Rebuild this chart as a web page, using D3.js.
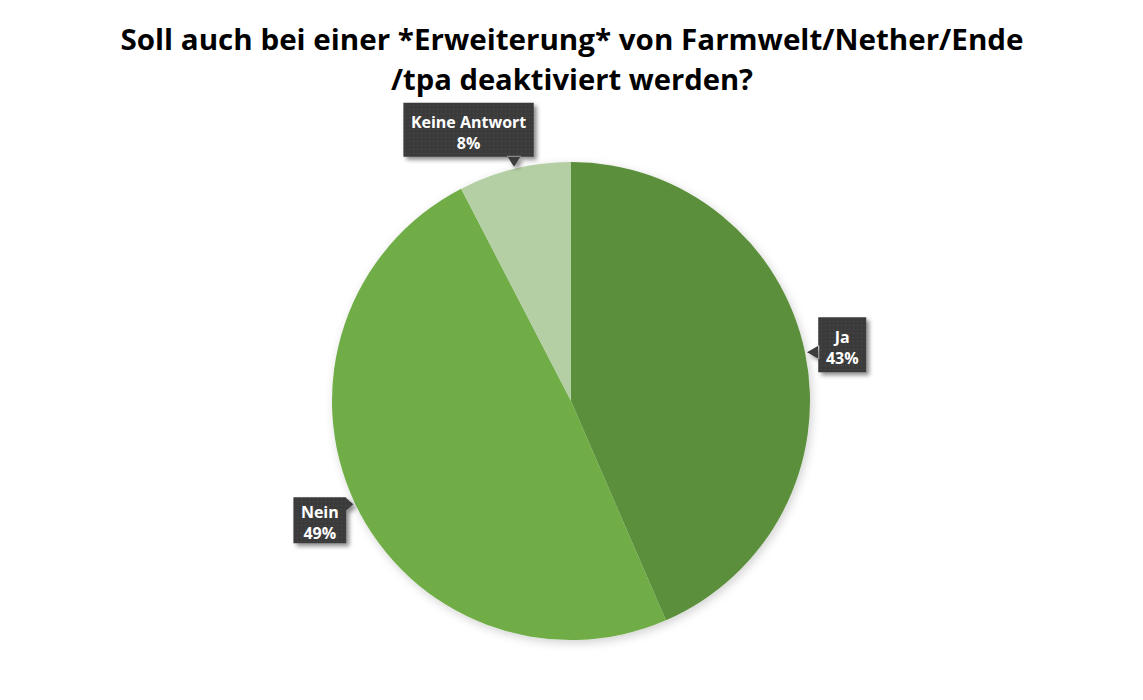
<!DOCTYPE html>
<html><head><meta charset="utf-8">
<script src="https://cdn.jsdelivr.net/npm/d3@7"></script>
<style>html,body{margin:0;padding:0;background:#fff;}svg{display:block;}</style>
</head><body>
<svg id="chart" width="1143" height="700"></svg>
<script>
const titleLines = ["Soll auch bei einer *Erweiterung* von Farmwelt/Nether/Ende", "/tpa deaktiviert werden?"];
const categories = ["Ja", "Nein", "Keine Antwort"];
const values = [43.5, 48.9, 7.6];
const pctLabels = ["43%", "49%", "8%"];
const colors = ["#5b8f3b", "#70ad47", "#b5cfa4"];

const svg = d3.select("#chart");
const cx = 571, cy = 401, R = 239;

const defs = svg.append("defs");
const pat = defs.append("pattern").attr("id","dots").attr("width",4).attr("height",4).attr("patternUnits","userSpaceOnUse");
pat.append("rect").attr("width",4).attr("height",4).attr("fill","#3b3b3b");
pat.append("rect").attr("x",1).attr("y",1).attr("width",1).attr("height",1).attr("fill","#4d4d4d");
const f = defs.append("filter").attr("id","shadow").attr("x","-30%").attr("y","-30%").attr("width","160%").attr("height","160%");
f.append("feDropShadow").attr("dx",3).attr("dy",3).attr("stdDeviation",2.2).attr("flood-color","#000").attr("flood-opacity",0.45);
const f2 = defs.append("filter").attr("id","pieshadow").attr("x","-20%").attr("y","-20%").attr("width","140%").attr("height","140%");
f2.append("feDropShadow").attr("dx",2).attr("dy",3).attr("stdDeviation",5).attr("flood-color","#000").attr("flood-opacity",0.18);

// Title
const tLen = [903, 362];
svg.append("g").selectAll("text").data(titleLines).join("text")
  .attr("x", 572).attr("y", (d,i)=> 50 + i*40)
  .attr("text-anchor","middle")
  .attr("font-family","'Open Sans', 'DejaVu Sans', sans-serif")
  .attr("font-weight","bold").attr("font-size",28).attr("fill","#000")
  .attr("textLength",(d,i)=>tLen[i]).attr("lengthAdjust","spacingAndGlyphs")
  .text(d=>d);

const pie = d3.pie().sort(null).value(d=>d)(values);
const arc = d3.arc().innerRadius(0).outerRadius(R);
const g = svg.append("g").attr("transform",`translate(${cx},${cy})`).attr("filter","url(#pieshadow)");
g.selectAll("path").data(pie).join("path")
  .attr("d",arc).attr("fill",(d,i)=>colors[i]);

// Labels (callouts)
const labelR = [277, 278, 290];
const labelShift = [0, 0, -7]; // angular tweak in degrees
const lg = svg.append("g");
pie.forEach((d,i)=>{
  const mid = (d.startAngle + d.endAngle)/2;
  const a = mid + labelShift[i]*Math.PI/180;
  const bx = cx + labelR[i]*Math.sin(a), by = cy - labelR[i]*Math.cos(a);
  const tipR = R + 2;
  const tx = cx + tipR*Math.sin(mid), ty = cy - tipR*Math.cos(mid);
  const fs = 16;
  const tmp = lg.append("text").attr("font-family","'Open Sans', sans-serif").attr("font-weight","bold").attr("font-size",fs).text(categories[i]);
  const tw = Math.max(tmp.node().getComputedTextLength(), 33);
  tmp.remove();
  const bw = Math.min(tw, 116) + 15, bh = i===0 ? 55 : (i===1 ? 46 : 54);
  const x0 = bx - bw/2, x1 = bx + bw/2, y0 = by - bh/2, y1 = by + bh/2;
  let tri;
  const hw = 7;
  if (tx < x0) { const c = Math.max(y0+hw, Math.min(y1-hw, ty)); tri = [[x0+1,c-hw],[tx,ty],[x0+1,c+hw]]; }
  else if (tx > x1) { const c = Math.max(y0+hw, Math.min(y1-hw, ty)); tri = [[x1-1,c-hw],[tx,ty],[x1-1,c+hw]]; }
  else if (ty > y1) { const c = Math.max(x0+hw, Math.min(x1-hw, tx)); tri = [[c-hw,y1-1],[tx,ty],[c+hw,y1-1]]; }
  else { const c = Math.max(x0+hw, Math.min(x1-hw, tx)); tri = [[c-hw,y0+1],[tx,ty],[c+hw,y0+1]]; }
  const cg = lg.append("g").attr("filter","url(#shadow)");
  const p = d3.path();
  p.rect(x0,y0,bw,bh);
  p.moveTo(tri[0][0],tri[0][1]); p.lineTo(tri[1][0],tri[1][1]); p.lineTo(tri[2][0],tri[2][1]); p.closePath();
  cg.append("path").attr("d",p.toString()).attr("fill","url(#dots)");
  const tg = lg.append("g").attr("font-family","'Open Sans', sans-serif").attr("font-weight","bold").attr("font-size",fs).attr("fill","#fff").attr("text-anchor","middle");
  tg.append("text").attr("x",bx).attr("y",by-2).attr("textLength", tw > 116 ? 116 : null).attr("lengthAdjust","spacingAndGlyphs").text(categories[i]);
  tg.append("text").attr("x",bx).attr("y",by+19).text(pctLabels[i]);
});
</script>
</body></html>
